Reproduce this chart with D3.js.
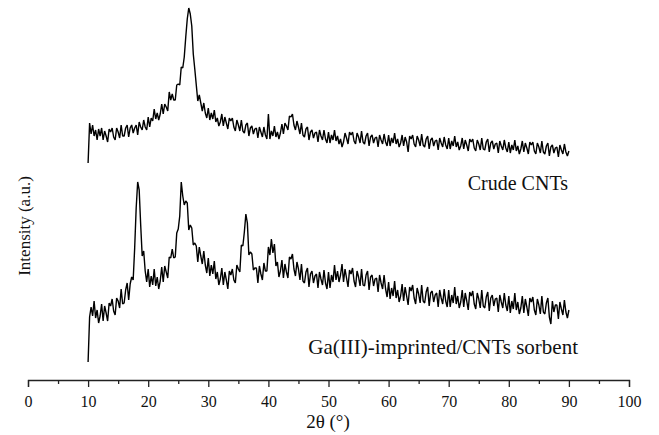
<!DOCTYPE html>
<html><head><meta charset="utf-8">
<script src="https://cdn.jsdelivr.net/npm/d3@7"></script>
<style>
html,body{margin:0;padding:0;background:#fff;}
text{font-family:"Liberation Serif","Times New Roman",serif;fill:#111;}
</style></head>
<body><svg id="chart" width="659" height="435"></svg>
<script>
// 2θ sampling grid (degrees)
const thetaStart = 10, thetaStep = 0.25, thetaEnd = 90;
const twoTheta = d3.range(thetaStart, thetaEnd + 1e-9, thetaStep);

// Intensity (a.u., curves offset as plotted) — Crude CNTs
const crudeCNTs = [
217,257,246,255,244,250,240,251,
244,252,240,249,244,238,251,248,
252,243,240,252,248,242,255,244,
244,252,255,243,252,255,247,252,
255,245,258,253,250,260,253,250,
263,253,262,259,271,261,267,260,
266,276,266,276,273,269,288,280,
286,280,280,295,296,295,313,312,
323,343,361,372,366,354,326,311,
295,279,285,277,269,277,267,262,
272,260,267,261,270,258,262,254,
258,266,254,263,257,251,262,259,
262,253,249,260,255,249,260,249,
247,255,257,244,252,254,246,251,
252,242,253,248,243,253,245,241,
266,241,249,244,254,243,248,241,
247,256,246,257,254,250,264,263,
266,255,250,259,253,246,257,245,
243,251,253,240,248,250,242,247,
248,238,250,244,240,250,241,237,
248,237,245,240,250,239,244,236,
241,233,238,247,242,236,248,245,
248,239,236,247,243,237,249,238,
236,244,247,234,243,245,237,242,
243,233,245,240,236,246,238,234,
245,234,242,237,247,236,241,233,
237,245,234,243,238,228,244,241,
245,236,233,244,240,234,246,235,
233,241,244,231,240,242,234,239,
240,230,242,237,233,243,235,231,
242,231,239,234,244,233,238,230,
234,242,231,240,235,229,241,238,
241,232,229,240,236,230,242,231,
230,238,241,228,237,239,231,236,
237,227,239,234,230,240,232,228,
238,227,235,230,240,229,234,226,
231,239,228,237,232,226,238,235,
238,229,226,237,233,227,239,228,
226,234,237,224,233,235,227,232,
233,223,235,230,226,236,228,224,
229];

// Intensity (a.u.) — Ga(III)-imprinted/CNTs sorbent
const gaImprinted = [
18,63,73,64,79,62,70,57,
64,76,59,74,67,59,77,74,
81,69,65,82,79,72,91,76,
77,90,97,80,96,103,100,132,
172,198,190,155,124,129,109,98,
111,93,104,95,111,94,103,91,
99,113,98,114,108,102,123,122,
131,122,123,147,151,164,198,184,
175,179,177,150,155,152,135,137,
134,118,133,124,116,129,115,107,
122,104,115,106,119,101,108,95,
101,112,95,108,100,91,109,105,
111,100,97,115,111,108,135,134,
148,166,157,125,128,126,110,112,
112,97,114,106,100,117,109,109,
133,125,141,127,136,114,118,103,
109,120,102,116,108,102,123,121,
126,111,104,118,111,100,116,99,
97,108,112,93,106,109,97,104,
106,92,108,101,95,110,97,91,
108,92,105,98,115,100,109,98,
105,116,98,111,102,93,110,106,
112,99,93,109,103,94,111,95,
94,105,109,90,103,105,94,101,
102,88,105,97,91,105,91,83,
98,81,92,84,99,82,90,78,
84,96,79,93,84,75,93,89,
95,82,76,92,86,77,95,79,
77,88,93,74,87,89,78,85,
87,73,90,82,76,91,79,73,
90,73,85,77,93,76,84,72,
78,90,73,87,79,70,88,84,
89,76,71,87,81,72,90,74,
72,83,88,69,82,85,74,81,
82,68,85,78,72,87,75,69,
84,67,79,71,87,70,78,66,
72,84,67,81,73,64,82,78,
83,70,65,81,75,66,84,68,
66,77,82,63,56,79,68,75,
75,61,78,71,65,80,68,62,
70];

const seriesNames = ["Crude CNTs", "Ga(III)-imprinted/CNTs sorbent"];
const xTicks = [0,10,20,30,40,50,60,70,80,90,100];
const xMinorTicks = [5,15,25,35,45,55,65,75,85,95];
const xLabel = "2θ (°)";
const yLabel = "Intensity (a.u.)";

const svg = d3.select("#chart");
const x = d3.scaleLinear().domain([0, 100]).range([28, 629]);
const y = d3.scaleLinear().domain([0, 380]).range([380, 0]);

const line = d3.line().x((d,i) => x(twoTheta[i])).y(d => y(d));

[crudeCNTs, gaImprinted].forEach(s => {
  svg.append("path").datum(s)
    .attr("d", line)
    .attr("fill", "none")
    .attr("stroke", "#000")
    .attr("stroke-width", 1.4)
    .attr("stroke-linejoin", "bevel");
});

// minor ticks
svg.append("g").attr("transform", "translate(0,380)")
  .call(d3.axisBottom(x).tickValues(xMinorTicks).tickSize(4).tickFormat(""))
  .call(g => g.select(".domain").remove())
  .selectAll("line").attr("stroke", "#222").attr("stroke-width", 1.3);

const ax = svg.append("g").attr("transform", "translate(0,380)")
  .call(d3.axisBottom(x).tickValues(xTicks).tickSize(7).tickSizeOuter(7).tickPadding(9).tickFormat(d3.format("d")));
ax.select(".domain").attr("stroke", "#222").attr("stroke-width", 1.3);
ax.selectAll(".tick line").attr("stroke", "#222").attr("stroke-width", 1.3);
ax.selectAll(".tick text").attr("font-size", 16).attr("font-family", "Liberation Serif, Times New Roman, serif").attr("fill", "#111");

svg.append("text").attr("x", 328).attr("y", 428).attr("text-anchor", "middle")
  .attr("font-size", 19).text(xLabel);

svg.append("text").attr("transform", "translate(30,226) rotate(-90)")
  .attr("text-anchor", "middle").attr("font-size", 17).text(yLabel);

svg.append("text").attr("x", 568).attr("y", 190).attr("text-anchor", "end")
  .attr("font-size", 20).text(seriesNames[0]);
svg.append("text").attr("x", 578).attr("y", 354).attr("text-anchor", "end")
  .attr("font-size", 21).text(seriesNames[1]);
</script></body></html>
